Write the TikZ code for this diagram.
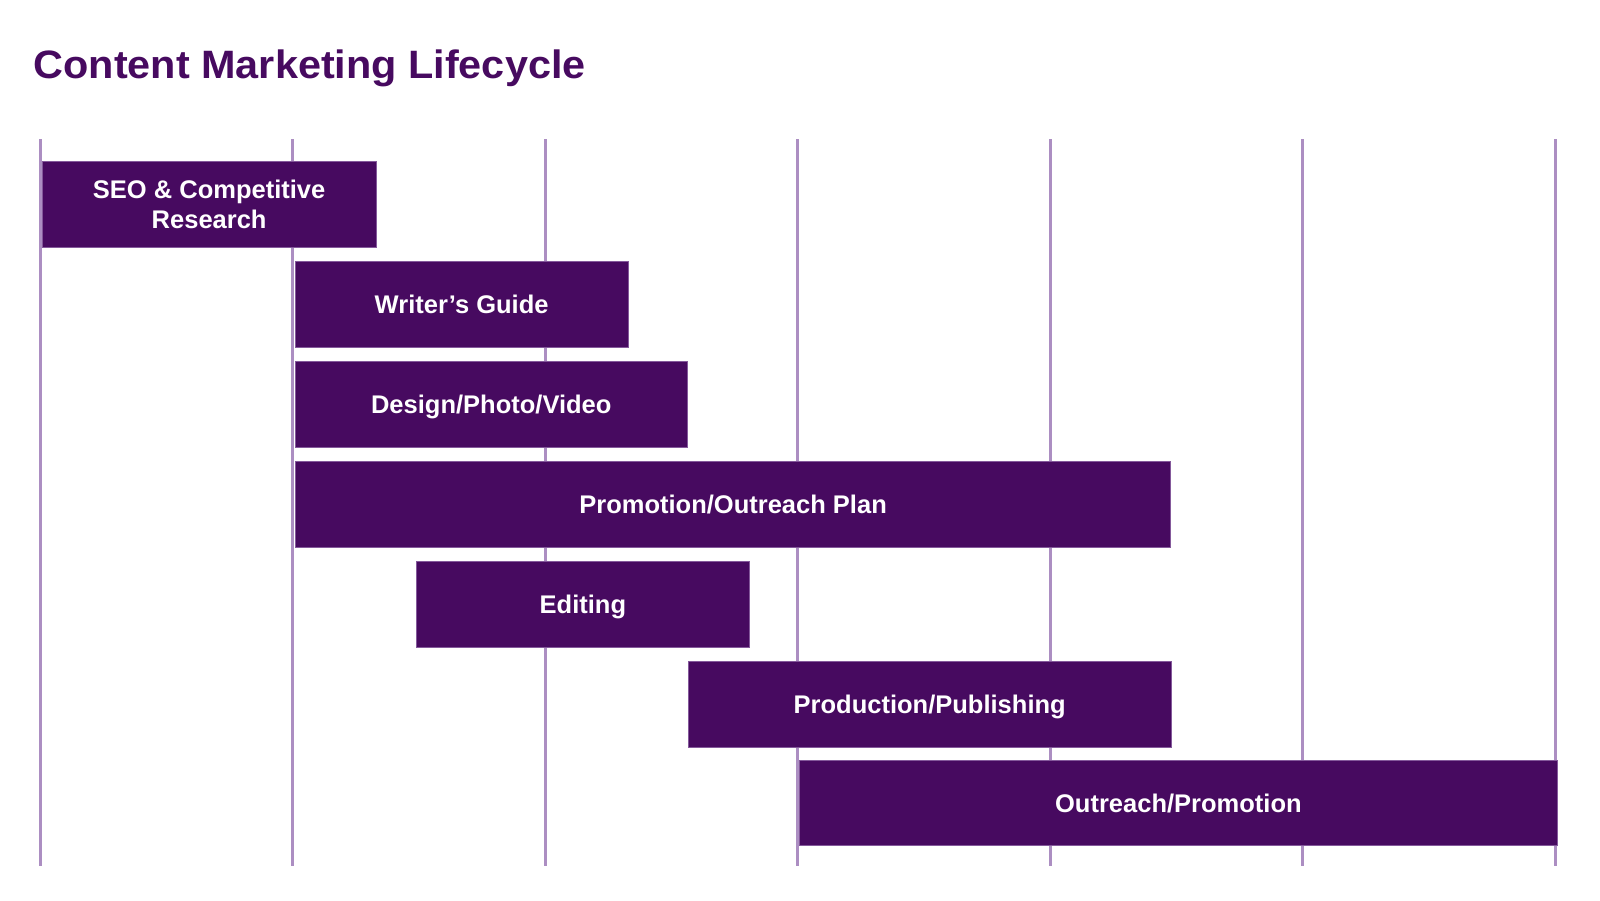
\documentclass[tikz,border=0pt]{standalone}
\usepackage{fontspec}
\setmainfont{Liberation Sans}
\newfontfamily\titlefont[FakeStretch=1.045]{Liberation Sans}
\definecolor{barcol}{HTML}{470A60}
\definecolor{gridcol}{HTML}{AC8EC2}
\begin{document}
\begin{tikzpicture}[x=1pt,y=-1pt,
  gridline/.style={draw=gridcol,line width=3pt},
  bar/.style={draw=gridcol!60!barcol,line width=0.8pt,fill=barcol,anchor=north west,inner sep=0pt,
    text=white,font=\fontsize{25.5}{30}\selectfont\bfseries,align=center,minimum height=86pt},
  onebar/.style={bar,text height=24.3pt,text depth=6pt},
  titlestyle/.style={anchor=base west,inner sep=0pt,text=barcol,font=\titlefont\fontsize{39.6}{44}\selectfont\bfseries}]
\useasboundingbox (0,0) rectangle (1600,900);
\fill[white] (0,0) rectangle (1600,900);
\node[titlestyle] (title) at (33.5,78.5) {Content Marketing Lifecycle};
\foreach \i in {0,...,6}{
  \draw[gridline] ({40+252.5*\i},139) -- ({40+252.5*\i},866);
}
\node[bar,minimum width=333.5pt] (seo) at (42,161) {SEO \& Competitive\\Research};
\node[onebar,minimum width=332.5pt] (guide) at (295,261) {Writer’s Guide};
\node[onebar,minimum width=391.7pt] (design) at (295,361) {Design/Photo/Video};
\node[onebar,minimum width=875.4pt] (plan) at (295,461) {Promotion/Outreach Plan};
\node[onebar,minimum width=333pt] (edit) at (416,561) {Editing};
\node[onebar,minimum width=482.6pt] (prod) at (688,661) {Production/Publishing};
\node[onebar,minimum width=758pt,minimum height=85pt] (outreach) at (799,760) {Outreach/Promotion};
\end{tikzpicture}
\end{document}
